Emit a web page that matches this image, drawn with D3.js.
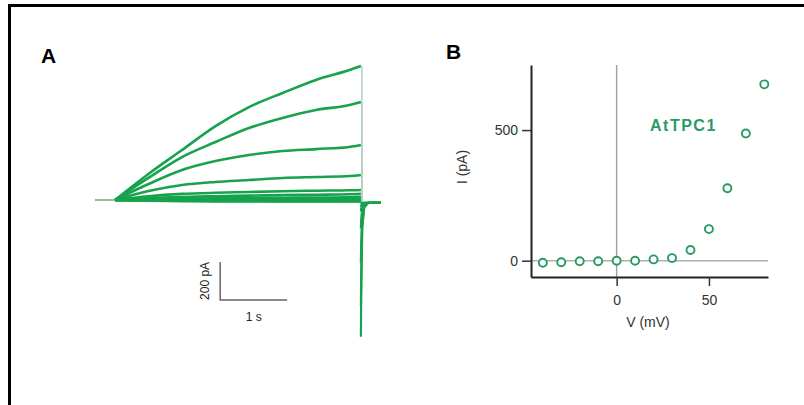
<!DOCTYPE html>
<html>
<head>
<meta charset="utf-8">
<script src="https://cdn.jsdelivr.net/npm/d3@7"></script>
<style>
  body { margin: 0; background: #fff; }
  text { font-family: "Liberation Sans", Arial, sans-serif; }
</style>
</head>
<body>
<div id="chart"></div>
<script>
// ---- data ----
// panel A: current traces, one per test voltage (pA), sampled at stepTimes (s)
const stepTimes = [0, 0.5, 1, 1.5, 2, 2.5, 3, 3.5, 3.67];
const traceVoltages = [80, 70, 60, 50, 40, 30, 20, 10, 0, -10, -20, -30, -40];
const traceCurrents = [
  [0, 137, 263, 389, 489, 563, 632, 684, 705],
  [0, 116, 226, 305, 379, 432, 474, 500, 516],
  [0, 84, 158, 205, 237, 258, 268, 279, 289],
  [0, 47, 79, 95, 105, 116, 121, 126, 132],
  [0, 20, 32, 38, 42, 46, 49, 51, 53],
  [0, 10, 16, 20, 23, 26, 28, 30, 32],
  [0, 4, 7, 9, 11, 12, 13, 14, 15],
  [0, 2, 3, 4, 5, 5, 6, 6, 6],
  [0, 0, 0, 1, 1, 1, 1, 1, 1],
  [0, -1, -2, -2, -2, -2, -2, -2, -2],
  [0, -2, -3, -3, -4, -4, -4, -4, -4],
  [0, -3, -4, -5, -5, -6, -6, -6, -6],
  [0, -4, -6, -7, -7, -8, -8, -8, -8]
];
// tail currents after the step
const tailTimes = [3.67, 3.675, 3.69, 3.72, 3.78, 3.97];
const tailCurrents = [
  [-720, -500, -150, -40, -15, -15],
  [-560, -380, -120, -35, -15, -15],
  [-330, -220, -80, -30, -15, -15],
  [-150, -100, -45, -25, -15, -15],
  [-60, -45, -25, -18, -15, -15],
  [-35, -28, -20, -16, -15, -15],
  [-20, -18, -16, -15, -15, -15],
  [-15, -15, -15, -15, -15, -15]
];
const holdStart = -0.3;
// scale bar (1 s, 200 pA)
const scaleBarT = 1.57, scaleBarI = -526, scaleBarDt = 1, scaleBarDi = 200;

// panel B: steady-state I-V
const ivVoltage = [-40, -30, -20, -10, 0, 10, 20, 30, 40, 50, 60, 70, 80];
const ivCurrent = [-8, -6, -2, -2, 0, 0, 5, 10, 41, 121, 277, 487, 675];
const xTicksB = [0, 50];
const yTicksB = [0, 500];

const green = "#17a24d";
const markGreen = "#2a9a64";

const width = 804, height = 405;
const svg = d3.select("#chart").append("svg")
  .attr("width", width).attr("height", height);

// outer frame
svg.append("rect")
  .attr("x", 9.5).attr("y", 5.5)
  .attr("width", 820).attr("height", 420)
  .attr("fill", "none").attr("stroke", "#000").attr("stroke-width", 3);

// ---------- Panel A ----------
const xA = d3.scaleLinear().domain([0, 4]).range([115, 383]);
const yA = d3.scaleLinear().domain([0, 200]).range([200, 162]);

svg.append("text").attr("x", 41).attr("y", 63)
  .attr("font-size", 21).attr("font-weight", "bold").text("A");

const lineA = d3.line().x(d => xA(d[0])).y(d => yA(d[1]));
const smoothA = d3.line().x(d => xA(d[0])).y(d => yA(d[1])).curve(d3.curveMonotoneX);

const gA = svg.append("g");

// drop from end of step to tail (fast, faint)
gA.selectAll("line.drop")
  .data(traceCurrents.slice(0, 4))
  .join("line")
  .attr("class", "drop")
  .attr("x1", xA(3.67) + 1).attr("x2", xA(3.67) + 1)
  .attr("y1", d => yA(d[d.length - 1]))
  .attr("y2", yA(-15))
  .attr("stroke", "#b3d3bd").attr("stroke-width", 1.5);

// holding baseline
gA.append("path")
  .attr("d", lineA([[holdStart, 0], [0, 0]]))
  .attr("fill", "none").attr("stroke", "#6aa87d").attr("stroke-width", 1.5);

gA.selectAll("path.trace")
  .data(traceCurrents)
  .join("path")
  .attr("class", "trace")
  .attr("d", d => smoothA(stepTimes.map((t, i) => [t, d[i]])))
  .attr("fill", "none")
  .attr("stroke", green)
  .attr("stroke-width", 2.6)
  .attr("stroke-linejoin", "round");

gA.selectAll("path.tail")
  .data(tailCurrents)
  .join("path")
  .attr("class", "tail")
  .attr("d", d => lineA(tailTimes.map((t, i) => [t, d[i]])))
  .attr("fill", "none")
  .attr("stroke", green)
  .attr("stroke-width", 2.2);

// scale bar
const sb = svg.append("g").attr("stroke", "#666").attr("stroke-width", 1.5).attr("fill", "none");
sb.append("path").attr("d", d3.line()([
  [xA(scaleBarT), yA(scaleBarI + scaleBarDi)],
  [xA(scaleBarT), yA(scaleBarI)],
  [xA(scaleBarT + scaleBarDt), yA(scaleBarI)]
]));
svg.append("text")
  .attr("transform", `translate(${xA(scaleBarT) - 11},${yA(scaleBarI + scaleBarDi / 2)}) rotate(-90)`)
  .attr("text-anchor", "middle").attr("font-size", 12).attr("fill", "#222")
  .text("200 pA");
svg.append("text")
  .attr("x", xA(scaleBarT + scaleBarDt / 2)).attr("y", yA(scaleBarI) + 21)
  .attr("text-anchor", "middle").attr("font-size", 12).attr("fill", "#222")
  .text("1 s");

// ---------- Panel B ----------
const xB = d3.scaleLinear().domain([-46.4, 82]).range([531, 768]);
const yB = d3.scaleLinear().domain([-62.4, 749]).range([277, 65]);

svg.append("text").attr("x", 446).attr("y", 59)
  .attr("font-size", 21).attr("font-weight", "bold").text("B");

// zero reference lines
svg.append("line")
  .attr("x1", xB(0)).attr("x2", xB(0))
  .attr("y1", yB.range()[1]).attr("y2", yB.range()[0])
  .attr("stroke", "#a3a3a3").attr("stroke-width", 1.5);
svg.append("line")
  .attr("x1", xB.range()[0]).attr("x2", xB.range()[1])
  .attr("y1", yB(0)).attr("y2", yB(0))
  .attr("stroke", "#b0b0b0").attr("stroke-width", 1.5);

const yAxis = svg.append("g")
  .attr("transform", `translate(${xB.range()[0]},0)`)
  .call(d3.axisLeft(yB).tickValues(yTicksB).tickSize(9).tickSizeOuter(0).tickPadding(4));
const xAxis = svg.append("g")
  .attr("transform", `translate(0,${yB.range()[0]})`)
  .call(d3.axisBottom(xB).tickValues(xTicksB).tickSize(9).tickSizeOuter(0).tickPadding(9));

[yAxis, xAxis].forEach(ax => {
  ax.select(".domain").attr("stroke", "#222").attr("stroke-width", 2);
  ax.selectAll(".tick line").attr("stroke", "#333").attr("stroke-width", 1.5);
  ax.selectAll(".tick text")
    .attr("font-size", 14).attr("fill", "#333")
    .style("font-family", "Liberation Sans, Arial, sans-serif");
});

svg.append("text")
  .attr("x", 648).attr("y", 327)
  .attr("text-anchor", "middle").attr("font-size", 14).attr("fill", "#333")
  .text("V (mV)");
svg.append("text")
  .attr("transform", `translate(467,167) rotate(-90)`)
  .attr("text-anchor", "middle").attr("font-size", 14).attr("fill", "#333")
  .text("I (pA)");

svg.selectAll("circle.iv")
  .data(ivVoltage)
  .join("circle")
  .attr("class", "iv")
  .attr("cx", d => xB(d))
  .attr("cy", (d, i) => yB(ivCurrent[i]))
  .attr("r", 4)
  .attr("fill", "#fff")
  .attr("stroke", markGreen)
  .attr("stroke-width", 1.9);

svg.append("text")
  .attr("x", 650).attr("y", 131)
  .attr("font-size", 16).attr("font-weight", "bold")
  .attr("letter-spacing", 1.5)
  .attr("fill", markGreen)
  .text("AtTPC1");
</script>
</body>
</html>
